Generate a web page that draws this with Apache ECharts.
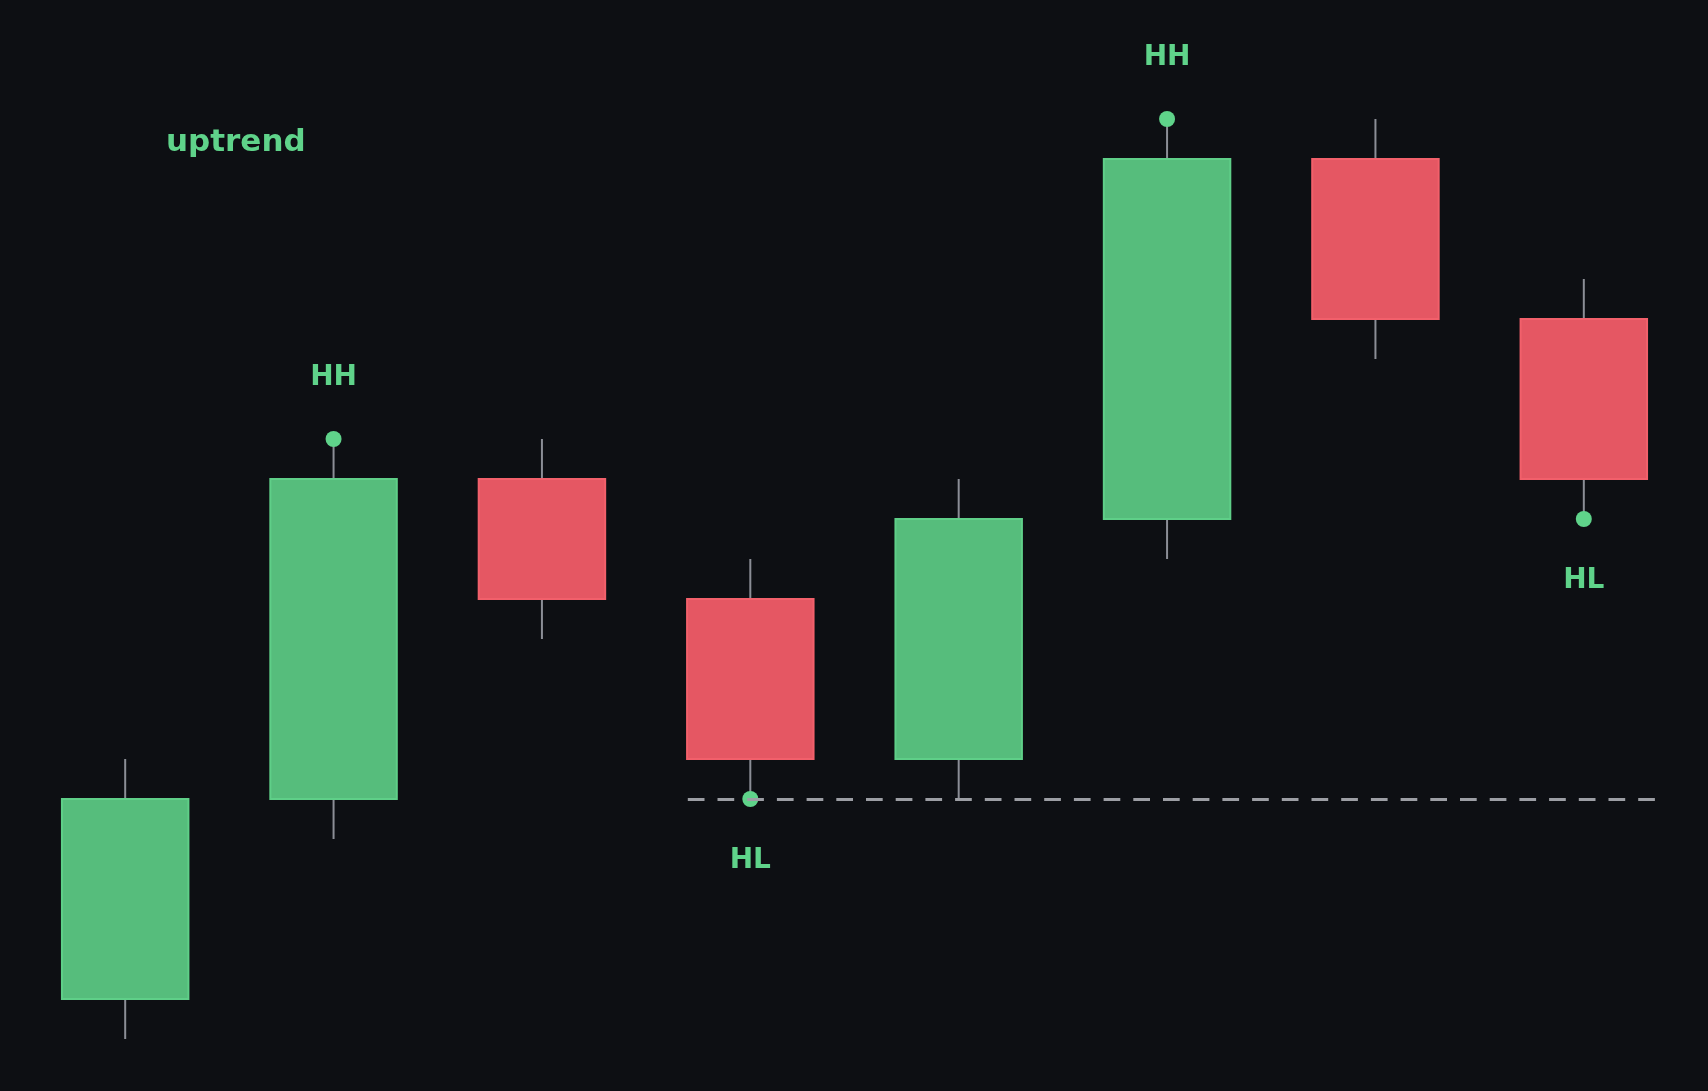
<!DOCTYPE html>
<html>
<head>
<meta charset="utf-8">
<script src="https://cdn.jsdelivr.net/npm/echarts@6/dist/echarts.min.js"></script>
<style>
  html, body { margin: 0; padding: 0; background: #0d0f13; }
  #chart { width: 1708px; height: 1091px; }
</style>
</head>
<body>
<div id="chart"></div>
<script>
// candle data: [open, close, low, high]
const opens  = [101, 106, 114, 111, 107, 113, 122, 118];
const closes = [106, 114, 111, 107, 113, 122, 118, 114];
const lows   = [100, 105, 110, 106, 106, 112, 117, 113];
const highs  = [107, 115, 115, 112, 114, 123, 123, 119];

// swing points: [candle index, price, label]
const swings = [
    [1, 115, 'HH'],
    [3, 106, 'HL'],
    [5, 123, 'HH'],
    [7, 113, 'HL']
];

// support level drawn as dashed line
const supportLevel = 106;
const supportFrom = 2.7;
const supportTo = 7.348;

const GREEN = '#56bd7c';
const GREEN_BORDER = '#5fcf88';
const RED = '#e55763';
const RED_BORDER = '#f2606b';
const WICK = '#8b8e96';
const DOT = '#5fd38a';

let candleData = opens.map(function (o, i) {
    return [i, opens[i], closes[i], lows[i], highs[i]];
});

function renderCandle(params, api) {
    let x = api.value(0);
    let open = api.value(1);
    let close = api.value(2);
    let low = api.value(3);
    let high = api.value(4);
    let up = close >= open;

    let pHigh = api.coord([x, high]);
    let pLow = api.coord([x, low]);
    let pTop = api.coord([x, Math.max(open, close)]);
    let pBottom = api.coord([x, Math.min(open, close)]);
    let width = api.size([1, 0])[0] * 0.607;

    return {
        type: 'group',
        children: [
            {
                type: 'line',
                shape: {x1: pHigh[0], y1: pHigh[1], x2: pLow[0], y2: pLow[1]},
                style: {stroke: WICK, lineWidth: 2}
            },
            {
                type: 'rect',
                shape: {
                    x: pTop[0] - width / 2,
                    y: pTop[1],
                    width: width,
                    height: pBottom[1] - pTop[1]
                },
                style: {
                    fill: up ? GREEN : RED,
                    stroke: up ? GREEN_BORDER : RED_BORDER,
                    lineWidth: 2
                }
            }
        ]
    };
}

let chart = echarts.init(document.getElementById('chart'));

chart.setOption({
    backgroundColor: '#0d0f13',
    animation: false,
    grid: {left: 21, right: 20, top: 39, bottom: 12},
    xAxis: {
        type: 'value',
        min: -0.5,
        max: 7.5,
        show: false
    },
    yAxis: {
        type: 'value',
        min: 99,
        max: 125,
        show: false
    },
    graphic: [{
        type: 'text',
        left: 166,
        top: 127,
        style: {
            text: 'uptrend',
            fill: DOT,
            font: 'bold 31px "DejaVu Sans"'
        }
    }],
    series: [
        {
            type: 'custom',
            renderItem: renderCandle,
            encode: {x: 0, y: [1, 2, 3, 4]},
            data: candleData,
            z: 2
        },
        {
            type: 'line',
            data: [],
            silent: true,
            markLine: {
                symbol: 'none',
                silent: true,
                label: {show: false},
                lineStyle: {color: '#9c9ea4', type: [16.7, 13], width: 3},
                data: [[
                    {coord: [supportFrom, supportLevel]},
                    {coord: [supportTo, supportLevel]}
                ]]
            },
            z: 1
        },
        {
            type: 'scatter',
            symbolSize: 16,
            itemStyle: {color: DOT, opacity: 1},
            data: swings.map(function (s) {
                let isHigh = s[2] === 'HH';
                return {
                    value: [s[0], s[1]],
                    label: {
                        show: true,
                        formatter: s[2],
                        position: isHigh ? 'top' : 'bottom',
                        distance: isHigh ? 39 : 40,
                        color: DOT,
                        opacity: 1,
                        fontFamily: 'DejaVu Sans',
                        fontWeight: 'bold',
                        fontSize: 28
                    }
                };
            }),
            z: 3
        }
    ]
});
</script>
</body>
</html>
